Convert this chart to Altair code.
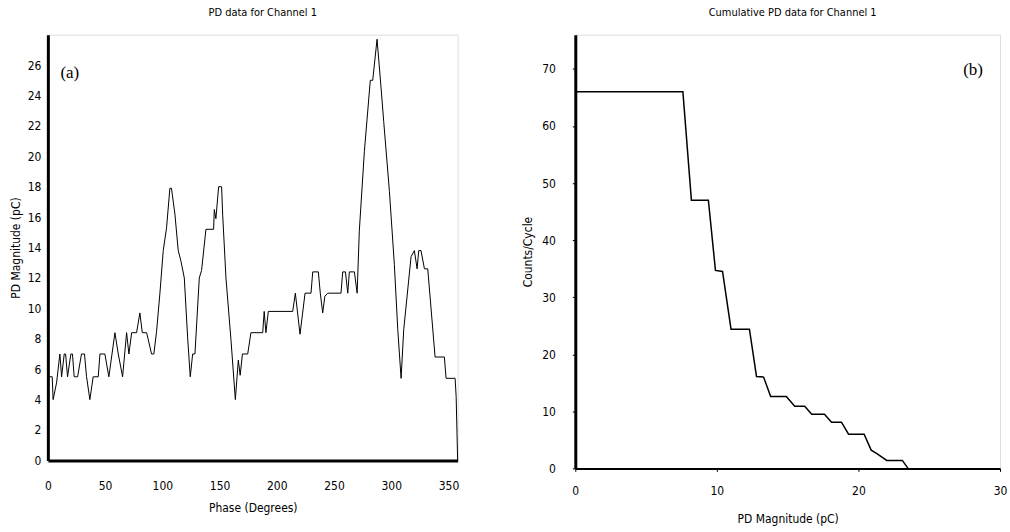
import altair as alt
import pandas as pd

# ---- Panel (a): PD data for Channel 1 ----
phase_deg = [0, 3.8, 4.6, 7.6, 10.5, 12, 14.3, 15.5, 17.2, 20.1, 21.5, 23, 26, 29.4, 32, 33.8,
             36.7, 39.6, 44, 45.5, 49.8, 53.3, 58.6, 61.5, 65.3, 68.8, 70.8, 73.2, 77.5, 80.4,
             82.5, 86.3, 90.6, 92.6, 95, 97.9, 100.8, 103.7, 106.6, 108, 111, 113.9, 116.3,
             119.2, 122.1, 124.4, 126.5, 128.5, 132.3, 134.3, 138.1, 144.8, 145.4, 146.8,
             149.2, 151.8, 152.7, 155.6, 160, 163.8, 166.4, 168, 170, 174.6, 177.4, 187.7,
             189, 190.5, 192.6, 213.9, 216.2, 220.3, 224.7, 229.9, 231.4, 236.3, 238, 240.1,
             242, 244.5, 256.1, 257.6, 260, 262, 263.4, 267.8, 270.2, 272.1, 276.5, 281.7,
             283.8, 287.6, 291.1, 293.4, 298.4, 302.7, 305.7, 308.6, 310.9, 317.3, 320.2,
             322.6, 324, 326, 329, 331.9, 338.3, 346.4, 347.9, 355.8, 356.7, 358]
pd_mag_pc = [5.5, 5.5, 4.0, 5.1, 7, 5.5, 7, 7, 5.5, 7, 7, 5.5, 5.5, 7, 7, 5.5,
             4.0, 5.5, 5.5, 7, 7, 5.5, 8.4, 7, 5.5, 8.4, 7, 8.4, 8.4, 9.7,
             8.4, 8.4, 7, 7, 8.5, 11, 13.8, 15.3, 17.9, 17.9, 16.2, 13.8, 13.1,
             12, 8.1, 5.5, 7, 7, 12, 12.5, 15.2, 15.2, 16.5, 15.9,
             18, 18, 16.2, 12, 7.9, 4.0, 6.6, 5.6, 7, 7, 8.4, 8.4,
             9.8, 8.4, 9.8, 9.8, 11, 8.3, 11, 11, 12.4, 12.4, 11, 9.7,
             10.8, 11, 11, 12.4, 12.4, 11, 12.4, 12.4, 11, 15.1, 20.3, 25,
             25, 27.7, 24.5, 22.3, 17.7, 12.9, 8.6, 5.4, 8.6, 13.4, 13.8,
             12.6, 13.8, 13.8, 12.6, 12.6, 6.8, 6.8, 5.4, 5.4, 4.2, 0]

# ---- Panel (b): Cumulative PD data for Channel 1 ----
cum_mag_pc = [0, 7.6, 8.2, 9.4, 9.9, 10.4, 11.0, 12.3, 12.8, 13.3, 13.8, 14.9, 15.5, 16.2,
              16.7, 17.6, 18.1, 18.8, 19.3, 20.4, 20.9, 21.3, 22.0, 23.1, 23.5]
counts_per_cycle = [66, 66, 47, 47, 34.7, 34.5, 24.4, 24.4, 16.1, 16, 12.6, 12.6, 10.9, 10.9,
                    9.5, 9.5, 8.1, 8.1, 6.0, 6.0, 3.2, 2.6, 1.4, 1.4, 0]

a_x_ticks = [0, 50, 100, 150, 200, 250, 300, 350]
a_y_ticks = [i * 0.5 for i in range(0, 56)]
b_x_ticks = [0, 10, 20, 30]
b_y_ticks = [0, 10, 20, 30, 40, 50, 60, 70]

FONT = "Liberation Sans Narrow, DejaVu Sans Condensed, Liberation Sans, sans-serif"

df_a = pd.DataFrame({"phase": phase_deg, "mag": pd_mag_pc, "i": range(len(phase_deg))})
df_b = pd.DataFrame({"mag": cum_mag_pc, "counts": counts_per_cycle, "i": range(len(cum_mag_pc))})

common_axis = dict(grid=False, labelFont=FONT, titleFont=FONT, labelFontSize=12,
                   titleFontSize=12, titleFontWeight="normal", labelColor="black",
                   titleColor="black", domainColor="black", labelOverlap=False,
                   labelFlush=False)

line_a = alt.Chart(df_a).mark_line(color="black", strokeWidth=1).encode(
    x=alt.X("phase:Q", scale=alt.Scale(domain=[0, 358], nice=False, zero=False),
            axis=alt.Axis(title="Phase (Degrees)", values=a_x_ticks, domainWidth=3,
                          tickColor="white", tickSize=2, labelPadding=18, titlePadding=11,
                          **common_axis)),
    y=alt.Y("mag:Q", scale=alt.Scale(domain=[0, 28], nice=False),
            axis=alt.Axis(title="PD Magnitude (pC)", values=a_y_ticks, domainWidth=3,
                          tickColor="white", tickSize=2, labelPadding=5, titlePadding=5,
                          labelExpr="(datum.value % 2 == 0 && datum.value <= 26) ? datum.value : ''",
                          **common_axis)),
    order="i:Q",
)
label_a = alt.Chart(pd.DataFrame({"t": ["(a)"]})).mark_text(
    font="Liberation Serif", fontSize=17, color="black", align="center", baseline="middle"
).encode(x=alt.value(22), y=alt.value(38), text="t:N")

left = alt.layer(line_a, label_a).properties(
    width=411, height=427,
    title=alt.TitleParams("PD data for Channel 1", font=FONT, fontSize=11,
                          fontWeight="normal", color="black", offset=17, dx=10, frame="group"),
)

line_b = alt.Chart(df_b).mark_line(color="black", strokeWidth=1.5).encode(
    x=alt.X("mag:Q", scale=alt.Scale(domain=[0, 30], nice=False),
            axis=alt.Axis(title="PD Magnitude (pC)", values=b_x_ticks, domainWidth=2,
                          tickColor="black", tickSize=3, labelPadding=14, titlePadding=17,
                          **common_axis)),
    y=alt.Y("counts:Q", scale=alt.Scale(domain=[0, 76], nice=False),
            axis=alt.Axis(title="Counts/Cycle", values=b_y_ticks, domainWidth=3,
                          tickColor="black", tickSize=3, labelPadding=17, titlePadding=7,
                          **common_axis)),
    order="i:Q",
)
label_b = alt.Chart(pd.DataFrame({"t": ["(b)"]})).mark_text(
    font="Liberation Serif", fontSize=17, color="black", align="center", baseline="middle"
).encode(x=alt.value(399), y=alt.value(35), text="t:N")

right = alt.layer(line_b, label_b).properties(
    width=426, height=435,
    title=alt.TitleParams("Cumulative PD data for Channel 1", font=FONT, fontSize=11,
                          fontWeight="normal", color="black", offset=17, dx=5, frame="group"),
)

chart = alt.hconcat(left, right, spacing=60).properties(
    padding={"left": 8, "top": 5, "right": 2, "bottom": 5}
).configure_view(stroke="black", strokeWidth=1).configure(background="white")

chart.save("out.html", embed_options={"renderer": "svg", "actions": False})
